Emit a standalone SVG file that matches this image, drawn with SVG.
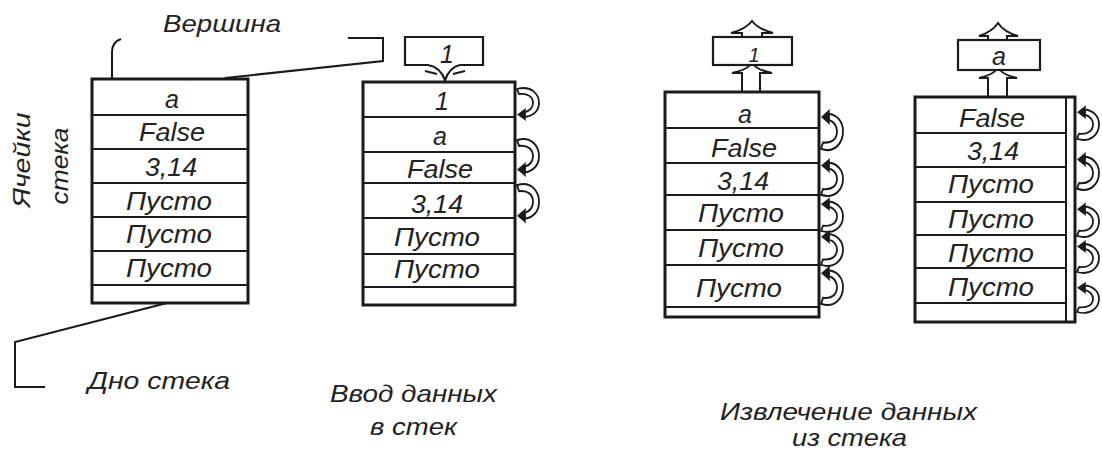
<svg xmlns="http://www.w3.org/2000/svg" width="1102" height="451" viewBox="0 0 1102 451">
<style>
.frame{fill:#fff;stroke:#1a1a1a;stroke-width:3}
.div{stroke:#1a1a1a;stroke-width:2}
.ln{fill:none;stroke:#1a1a1a;stroke-width:2}
.box{fill:#fff;stroke:#1a1a1a;stroke-width:2.2}
.c{font-family:"Liberation Sans",Arial,sans-serif;font-style:italic;font-size:25px;fill:#222;text-anchor:middle}
.l{font-family:"Liberation Sans",Arial,sans-serif;font-style:italic;font-size:24px;fill:#222}
.curl{fill:#fff;stroke:#1a1a1a;stroke-width:1.8}
.head{fill:#1a1a1a}
</style>
<defs>
<g id="curl">
<path class="curl" d="M0,1 C14,-3 22,6 22,15 C22,23 16,28 8,29 L8,24 C13,23 16,19 16,15 C16,9 11,5 2,6 Z"/>
<path class="head" d="M0,26.5 L9,20 L8,26.5 L9,33 Z"/>
</g>
</defs>
<rect width="1102" height="451" fill="#fff"/>

<g id="connectors">
<path class="ln" d="M112,79 V52 Q112,42 121,39"/>
<path class="ln" d="M225,78 L383,61 V38 H348"/>
<path class="ln" d="M167,303 L15,342 V387 H45"/>
</g>

<g id="labels">
<text class="l" x="163" y="32" textLength="118" lengthAdjust="spacingAndGlyphs">Вершина</text>
<text class="l" transform="translate(30,160) rotate(-90)" text-anchor="middle" textLength="95" lengthAdjust="spacingAndGlyphs">Ячейки</text>
<text class="l" transform="translate(68,166) rotate(-90)" text-anchor="middle" textLength="77" lengthAdjust="spacingAndGlyphs">стека</text>
<text class="l" x="88" y="389" textLength="142" lengthAdjust="spacingAndGlyphs">Дно стека</text>
<text class="l" x="330" y="402" textLength="167" lengthAdjust="spacingAndGlyphs">Ввод данных</text>
<text class="l" x="370" y="435" textLength="87" lengthAdjust="spacingAndGlyphs">в стек</text>
<text class="l" x="720" y="420" textLength="257" lengthAdjust="spacingAndGlyphs">Извлечение данных</text>
<text class="l" x="792" y="446" textLength="115" lengthAdjust="spacingAndGlyphs">из стека</text>
</g>

<g id="stack1">
<rect class="frame" x="92" y="79" width="156" height="224"/>
<path class="div" d="M92,115 H248 M92,149 H248 M92,183 H248 M92,217 H248 M92,251 H248 M92,285 H248"/>
<text class="c" x="172" y="108">a</text>
<text class="c" x="172" y="141" textLength="66" lengthAdjust="spacingAndGlyphs">False</text>
<text class="c" x="171" y="176" textLength="52" lengthAdjust="spacingAndGlyphs">3,14</text>
<text class="c" x="169" y="210" textLength="86" lengthAdjust="spacingAndGlyphs">Пусто</text>
<text class="c" x="169" y="243" textLength="86" lengthAdjust="spacingAndGlyphs">Пусто</text>
<text class="c" x="169" y="277" textLength="86" lengthAdjust="spacingAndGlyphs">Пусто</text>
</g>

<g id="stack2">
<path class="box" d="M405,37 H483 V65 H460 Q450,67 445,80 Q440,67 428,65 H405 Z"/>
<path class="ln" d="M425,71 L437,74 M465,71 L453,74"/>
<text class="c" x="447" y="63">1</text>
<rect class="frame" x="363" y="82" width="152" height="223"/>
<path class="div" d="M363,117 H515 M363,152 H515 M363,183 H515 M363,218 H515 M363,254 H515 M363,287 H515"/>
<text class="c" x="442" y="110">1</text>
<text class="c" x="440" y="145">a</text>
<text class="c" x="440" y="178" textLength="66" lengthAdjust="spacingAndGlyphs">False</text>
<text class="c" x="437" y="213" textLength="52" lengthAdjust="spacingAndGlyphs">3,14</text>
<text class="c" x="437" y="246" textLength="86" lengthAdjust="spacingAndGlyphs">Пусто</text>
<text class="c" x="437" y="278" textLength="86" lengthAdjust="spacingAndGlyphs">Пусто</text>
<use href="#curl" transform="translate(517,88)"/>
<use href="#curl" transform="translate(517,139) scale(1,1.15)"/>
<use href="#curl" transform="translate(517,184) scale(1,1.2)"/>
</g>

<g id="stack3">
<path class="ln" d="M742,37 V33 H731 Q746,29 752,21 Q758,29 773,33 H762 V37"/>
<rect class="box" x="713" y="37" width="79" height="28"/>
<text class="c" x="754" y="62" style="font-size:20px">1</text>
<path class="ln" d="M742,92 V73 H732 Q746,70 750,65 M760,92 V73 H772 Q758,70 754,65"/>
<rect class="frame" x="665" y="92" width="154" height="225"/>
<path class="div" d="M665,128 H819 M665,163 H819 M665,195 H819 M665,230 H819 M665,265 H819 M665,307 H819"/>
<text class="c" x="745" y="123">a</text>
<text class="c" x="744" y="157" textLength="66" lengthAdjust="spacingAndGlyphs">False</text>
<text class="c" x="743" y="190" textLength="52" lengthAdjust="spacingAndGlyphs">3,14</text>
<text class="c" x="741" y="222" textLength="86" lengthAdjust="spacingAndGlyphs">Пусто</text>
<text class="c" x="741" y="257" textLength="86" lengthAdjust="spacingAndGlyphs">Пусто</text>
<text class="c" x="739" y="297" textLength="86" lengthAdjust="spacingAndGlyphs">Пусто</text>
<use href="#curl" transform="translate(821,150) scale(1,-1.25)"/>
<use href="#curl" transform="translate(821,196) scale(1,-1.15)"/>
<use href="#curl" transform="translate(821,232) scale(1,-1.05)"/>
<use href="#curl" transform="translate(821,266) scale(1,-1.1)"/>
<use href="#curl" transform="translate(821,305) scale(1,-1.2)"/>
</g>

<g id="stack4">
<path class="ln" d="M988,40 V36 H979 Q992,32 998,23 Q1004,32 1018,36 H1007 V40"/>
<rect class="box" x="958" y="40" width="82" height="30"/>
<text class="c" x="999" y="65">a</text>
<path class="ln" d="M988,97 V78 H979 Q992,75 996,70 M1007,97 V78 H1017 Q1004,75 1000,70"/>
<rect class="frame" x="915" y="97" width="160" height="225"/>
<path class="div" d="M1066,97 V322 M915,133 H1066 M915,167 H1066 M915,202 H1066 M915,235 H1066 M915,268 H1066 M915,303 H1066"/>
<text class="c" x="992" y="127" textLength="66" lengthAdjust="spacingAndGlyphs">False</text>
<text class="c" x="993" y="160" textLength="52" lengthAdjust="spacingAndGlyphs">3,14</text>
<text class="c" x="991" y="193" textLength="86" lengthAdjust="spacingAndGlyphs">Пусто</text>
<text class="c" x="991" y="228" textLength="86" lengthAdjust="spacingAndGlyphs">Пусто</text>
<text class="c" x="991" y="262" textLength="86" lengthAdjust="spacingAndGlyphs">Пусто</text>
<text class="c" x="991" y="296" textLength="86" lengthAdjust="spacingAndGlyphs">Пусто</text>
<use href="#curl" transform="translate(1077,140) scale(1,-1.05)"/>
<use href="#curl" transform="translate(1077,190) scale(1,-1.15)"/>
<use href="#curl" transform="translate(1077,237) scale(1,-1.05)"/>
<use href="#curl" transform="translate(1077,273) scale(1,-1.0)"/>
<use href="#curl" transform="translate(1077,313) scale(1,-0.95)"/>
</g>
</svg>
